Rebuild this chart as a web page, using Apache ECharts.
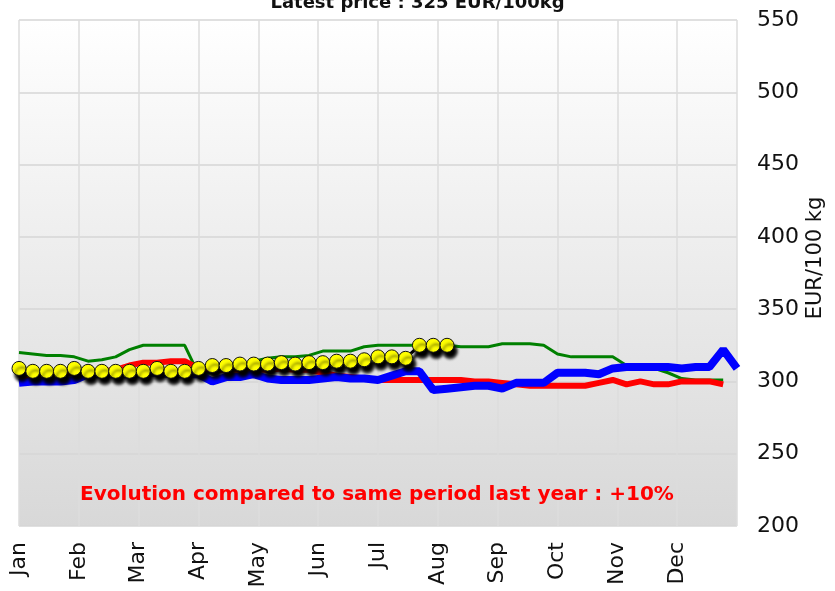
<!DOCTYPE html>
<html>
<head>
<meta charset="utf-8">
<script src="https://cdn.jsdelivr.net/npm/echarts@6/dist/echarts.min.js"></script>
<style>
  html, body { margin: 0; padding: 0; background: #fff; }
  #chart { width: 835px; height: 591px; }
</style>
</head>
<body>
<div id="chart"></div>
<script>
// month labels on the x axis (52 weeks split in 12 equal months)
var months = ['Jan', 'Feb', 'Mar', 'Apr', 'May', 'Jun', 'Jul', 'Aug', 'Sep', 'Oct', 'Nov', 'Dec'];

// weekly prices, EUR/100 kg
var greenYear = [320, 319, 318, 318, 317, 314, 315, 317, 322, 325, 325, 325, 325, 305, 306, 308,
  311, 314, 316, 317, 317, 318, 321, 321, 321, 324, 325, 325, 325, 325, 325, 325,
  324, 324, 324, 326, 326, 326, 325, 319, 317, 317, 317, 317, 311, 310, 309, 306,
  302, 301, 301, 301];
var redYear = [303, 304, 305, 305, 306, 306, 307, 308, 311, 313, 313, 314, 314, 309, 308, 308,
  308, 308, 308, 309, 308, 308, 306, 304, 303, 302, 301, 301, 301, 301, 301, 301,
  301, 300, 300, 299, 298, 297, 297, 297, 297, 297, 299, 301, 298, 300, 298, 298,
  300, 300, 300, 298];
var blueYear = [299, 300, 300, 300, 301, 305, 305, 305, 305, 306, 306, 305, 305, 305, 300, 303,
  303, 305, 302, 301, 301, 301, 302, 303, 302, 302, 301, 304, 307, 307, 294, 295,
  296, 297, 297, 295, 299, 299, 299, 306, 306, 306, 305, 309, 310, 310, 310, 310,
  309, 310, 310, 322, 309];
var currentYear = [309, 307, 307, 307, 309, 307, 307, 307, 307, 307, 309, 307, 307, 309, 311, 311,
  312, 312, 312, 313, 312, 313, 313, 314, 314, 315, 317, 317, 316, 325, 325, 325];

var latestPrice = 325;
var evolution = '+10%';

function toPoints(arr) {
  return arr.map(function (v, i) { return [i, v]; });
}

var chart = echarts.init(document.getElementById('chart'));
var weeksPerMonth = 52 / 12;

chart.setOption({
  animation: false,
  title: {
    text: 'Latest price : ' + latestPrice + ' EUR/100kg',
    left: 'center',
    top: -6,
    padding: 0,
    textStyle: {
      color: '#111',
      fontFamily: 'DejaVu Sans',
      fontWeight: 'bold',
      fontSize: 18
    }
  },
  grid: {
    left: 19,
    right: 98,
    top: 20,
    bottom: 65,
    show: true,
    borderWidth: 0,
    backgroundColor: new echarts.graphic.LinearGradient(0, 0, 0, 1, [
      { offset: 0, color: '#ffffff' },
      { offset: 1, color: '#d8d8d8' }
    ])
  },
  xAxis: {
    type: 'value',
    min: 0,
    max: 52,
    interval: weeksPerMonth,
    axisLine: { show: false },
    axisTick: { show: false },
    splitLine: {
      show: true,
      lineStyle: { color: '#dcdcdc', width: 1.5 }
    },
    axisLabel: {
      rotate: 90,
      margin: 16,
      color: '#111',
      fontFamily: 'DejaVu Sans',
      fontSize: 22,
      formatter: function (v) {
        return months[Math.round(v / weeksPerMonth)] || '';
      }
    }
  },
  yAxis: {
    type: 'value',
    position: 'right',
    min: 200,
    max: 550,
    interval: 50,
    axisLine: { show: false },
    axisTick: { show: false },
    splitLine: {
      show: true,
      lineStyle: { color: '#d6d6d6', width: 1.5 }
    },
    axisLabel: {
      margin: 20,
      color: '#111',
      fontFamily: 'DejaVu Sans',
      fontSize: 22
    }
  },
  graphic: [
    {
      type: 'text',
      x: 816,
      y: 258,
      z: 100,
      rotation: Math.PI / 2,
      style: {
        text: 'EUR/100 kg',
        fill: '#111',
        font: '21px "DejaVu Sans"',
        textAlign: 'center',
        textVerticalAlign: 'middle'
      }
    },
    {
      type: 'text',
      x: 377,
      y: 495,
      z: 100,
      style: {
        text: 'Evolution compared to same period last year : ' + evolution,
        fill: '#ff0000',
        font: 'bold 20px "DejaVu Sans"',
        textAlign: 'center',
        textVerticalAlign: 'middle'
      }
    }
  ],
  series: [
    {
      name: 'green',
      type: 'line',
      data: toPoints(greenYear),
      showSymbol: false,
      lineStyle: { color: '#008000', width: 3 },
      z: 2
    },
    {
      name: 'red',
      type: 'line',
      data: toPoints(redYear),
      showSymbol: false,
      lineStyle: { color: '#ff0000', width: 6 },
      z: 3
    },
    {
      name: 'blue',
      type: 'line',
      data: toPoints(blueYear),
      showSymbol: false,
      lineStyle: { color: '#0000ff', width: 8 },
      z: 4
    },
    {
      name: 'current',
      type: 'line',
      data: toPoints(currentYear),
      symbol: 'circle',
      symbolSize: 14,
      lineStyle: {
        color: '#000',
        width: 3,
        shadowColor: '#000',
        shadowBlur: 3,
        shadowOffsetX: 2,
        shadowOffsetY: 5
      },
      itemStyle: {
        color: '#ffff00',
        borderColor: '#111',
        borderWidth: 1,
        shadowColor: '#000',
        shadowBlur: 3,
        shadowOffsetX: 3,
        shadowOffsetY: 6
      },
      z: 5
    }
  ]
});
</script>
</body>
</html>
